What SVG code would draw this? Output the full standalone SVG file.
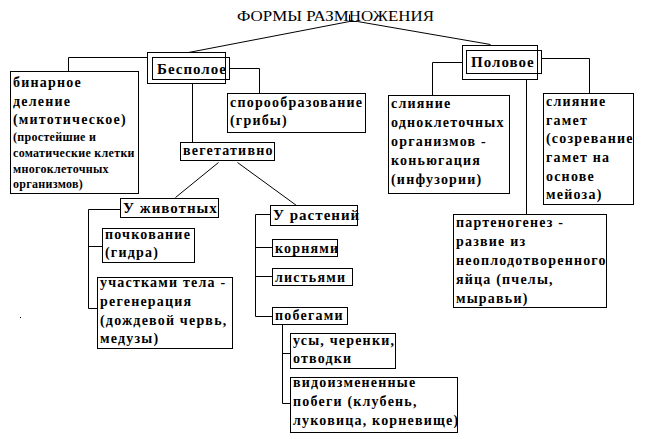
<svg xmlns="http://www.w3.org/2000/svg" width="645" height="439" viewBox="0 0 645 439">
<style>
.bg{fill:#fff}
.box{fill:#fff;stroke:#000;stroke-width:1}
.ln{fill:none;stroke:#000;stroke-width:1}
text{font-family:'Liberation Serif','Times New Roman','DejaVu Serif',serif;fill:#000}
.t{font-weight:bold;font-size:14px;letter-spacing:1.2px}
.s{font-weight:bold;font-size:12px;letter-spacing:0.3px}
.h{font-weight:bold;font-size:15px;letter-spacing:1px}
.title{font-size:14px}
</style>
<rect class="bg" x="0" y="0" width="645" height="439"/>
<g id="connectors">
<path class="ln" d="M349.5,14.5 V21.5 H357.5"/>
<path class="ln" d="M349.5,21.5 L188.5,52.5"/>
<path class="ln" d="M357.5,21.5 L490.5,44.5"/>
<path class="ln" d="M147.5,57.5 H68.5 V71.5"/>
<path class="ln" d="M229.5,68.5 H259.5 V93.5"/>
<path class="ln" d="M192.5,83.5 V142.5"/>
<path class="ln" d="M218.5,162.5 L175.5,197.5"/>
<path class="ln" d="M237.5,162.5 L296.5,205.5"/>
<path class="ln" d="M120.5,209.5 H88.5 V308.5 H97.5"/>
<path class="ln" d="M88.5,246.5 H102.5"/>
<path class="ln" d="M270.5,214.5 H255.5 V316.5 H272.5"/>
<path class="ln" d="M255.5,247.5 H272.5"/>
<path class="ln" d="M255.5,276.5 H272.5"/>
<path class="ln" d="M282.5,324.5 V403.5 H290.5"/>
<path class="ln" d="M282.5,353.5 H290.5"/>
<path class="ln" d="M462.5,62.5 H432.5 V95.5"/>
<path class="ln" d="M541.5,58.5 H589.5 V93.5"/>
<path class="ln" d="M526.5,79.5 V214.5"/>
</g>
<text class="title" x="237" y="21" textLength="197" lengthAdjust="spacingAndGlyphs" font-family="Liberation Serif, serif">ФОРМЫ РАЗМНОЖЕНИЯ</text>
<g id="bespoloe">
<rect class="ln" x="147.5" y="52.5" width="78" height="31"/>
<rect class="ln" x="152.5" y="57.5" width="77" height="22"/>
<text class="h" x="157" y="74">Бесполое</text>
</g>
<g id="polovoe">
<rect class="ln" x="462.5" y="45.5" width="75" height="34"/>
<rect class="ln" x="466.5" y="50.5" width="75" height="23"/>
<text class="h" x="471" y="67">Половое</text>
</g>
<g id="binarnoe">
<rect class="box" x="10.5" y="71.5" width="128" height="122"/>
<text class="t" x="13" y="87">бинарное</text>
<text class="t" x="13" y="106">деление</text>
<text class="t" x="13" y="124">(митотическое)</text>
<text class="s" x="13" y="141">(простейшие и</text>
<text class="s" x="13" y="157">соматические клетки</text>
<text class="s" x="13" y="173">многоклеточных</text>
<text class="s" x="13" y="188">организмов)</text>
</g>
<g id="sporo">
<rect class="box" x="227.5" y="93.5" width="138" height="39"/>
<text class="t" x="230" y="107">спорообразование</text>
<text class="t" x="230" y="125">(грибы)</text>
</g>
<g id="vegetativno">
<rect class="box" x="180.5" y="142.5" width="94" height="18"/>
<text class="t" x="183" y="155">вегетативно</text>
</g>
<g id="zhivotnye">
<rect class="box" x="120.5" y="198.5" width="98" height="19"/>
<text class="h" x="123" y="213">У животных</text>
</g>
<g id="pochkovanie">
<rect class="box" x="102.5" y="228.5" width="92" height="34"/>
<text class="t" x="105" y="239">почкование</text>
<text class="t" x="105" y="257">(гидра)</text>
</g>
<g id="uchastkami">
<rect class="box" x="97.5" y="277.5" width="135" height="71"/>
<text class="t" x="100" y="287">участками тела -</text>
<text class="t" x="100" y="306">регенерация</text>
<text class="t" x="100" y="325">(дождевой червь,</text>
<text class="t" x="100" y="343">медузы)</text>
</g>
<g id="rasteniya">
<rect class="box" x="270.5" y="205.5" width="87" height="20"/>
<text class="h" x="273" y="220">У растений</text>
</g>
<g id="kornyami">
<rect class="box" x="272.5" y="239.5" width="65" height="17"/>
<text class="t" x="275" y="253">корнями</text>
</g>
<g id="listyami">
<rect class="box" x="272.5" y="268.5" width="80" height="17"/>
<text class="t" x="275" y="282">листьями</text>
</g>
<g id="pobegami">
<rect class="box" x="272.5" y="307.5" width="75" height="17"/>
<text class="t" x="275" y="320">побегами</text>
</g>
<g id="usy">
<rect class="box" x="290.5" y="333.5" width="105" height="35"/>
<text class="t" x="293" y="345">усы, черенки,</text>
<text class="t" x="293" y="363">отводки</text>
</g>
<g id="vidoizm">
<rect class="box" x="290.5" y="377.5" width="167" height="55"/>
<text class="t" x="293" y="387">видоизмененные</text>
<text class="t" x="293" y="406">побеги (клубень,</text>
<text class="t" x="293" y="425">луковица, корневище)</text>
</g>
<g id="sliyanie1">
<rect class="box" x="388.5" y="95.5" width="121" height="98"/>
<text class="t" x="391" y="108">слияние</text>
<text class="t" x="391" y="127">одноклеточных</text>
<text class="t" x="391" y="146">организмов -</text>
<text class="t" x="391" y="165">коньюгация</text>
<text class="t" x="391" y="184">(инфузории)</text>
</g>
<g id="sliyanie2">
<rect class="box" x="543.5" y="93.5" width="90" height="111"/>
<text class="t" x="546" y="106">слияние</text>
<text class="t" x="546" y="125">гамет</text>
<text class="t" x="546" y="143">(созревание</text>
<text class="t" x="546" y="162">гамет на</text>
<text class="t" x="546" y="181">основе</text>
<text class="t" x="546" y="199">мейоза)</text>
</g>
<g id="partenogenez">
<rect class="box" x="453.5" y="214.5" width="153" height="93"/>
<text class="t" x="456" y="227">партеногенез -</text>
<text class="t" x="456" y="246">развие из</text>
<text class="t" x="456" y="265">неоплодотворенного</text>
<text class="t" x="456" y="284">яйца (пчелы,</text>
<text class="t" x="456" y="303">мыравьи)</text>
</g>
<rect x="20" y="317" width="1" height="1" fill="#000"/>
</svg>
